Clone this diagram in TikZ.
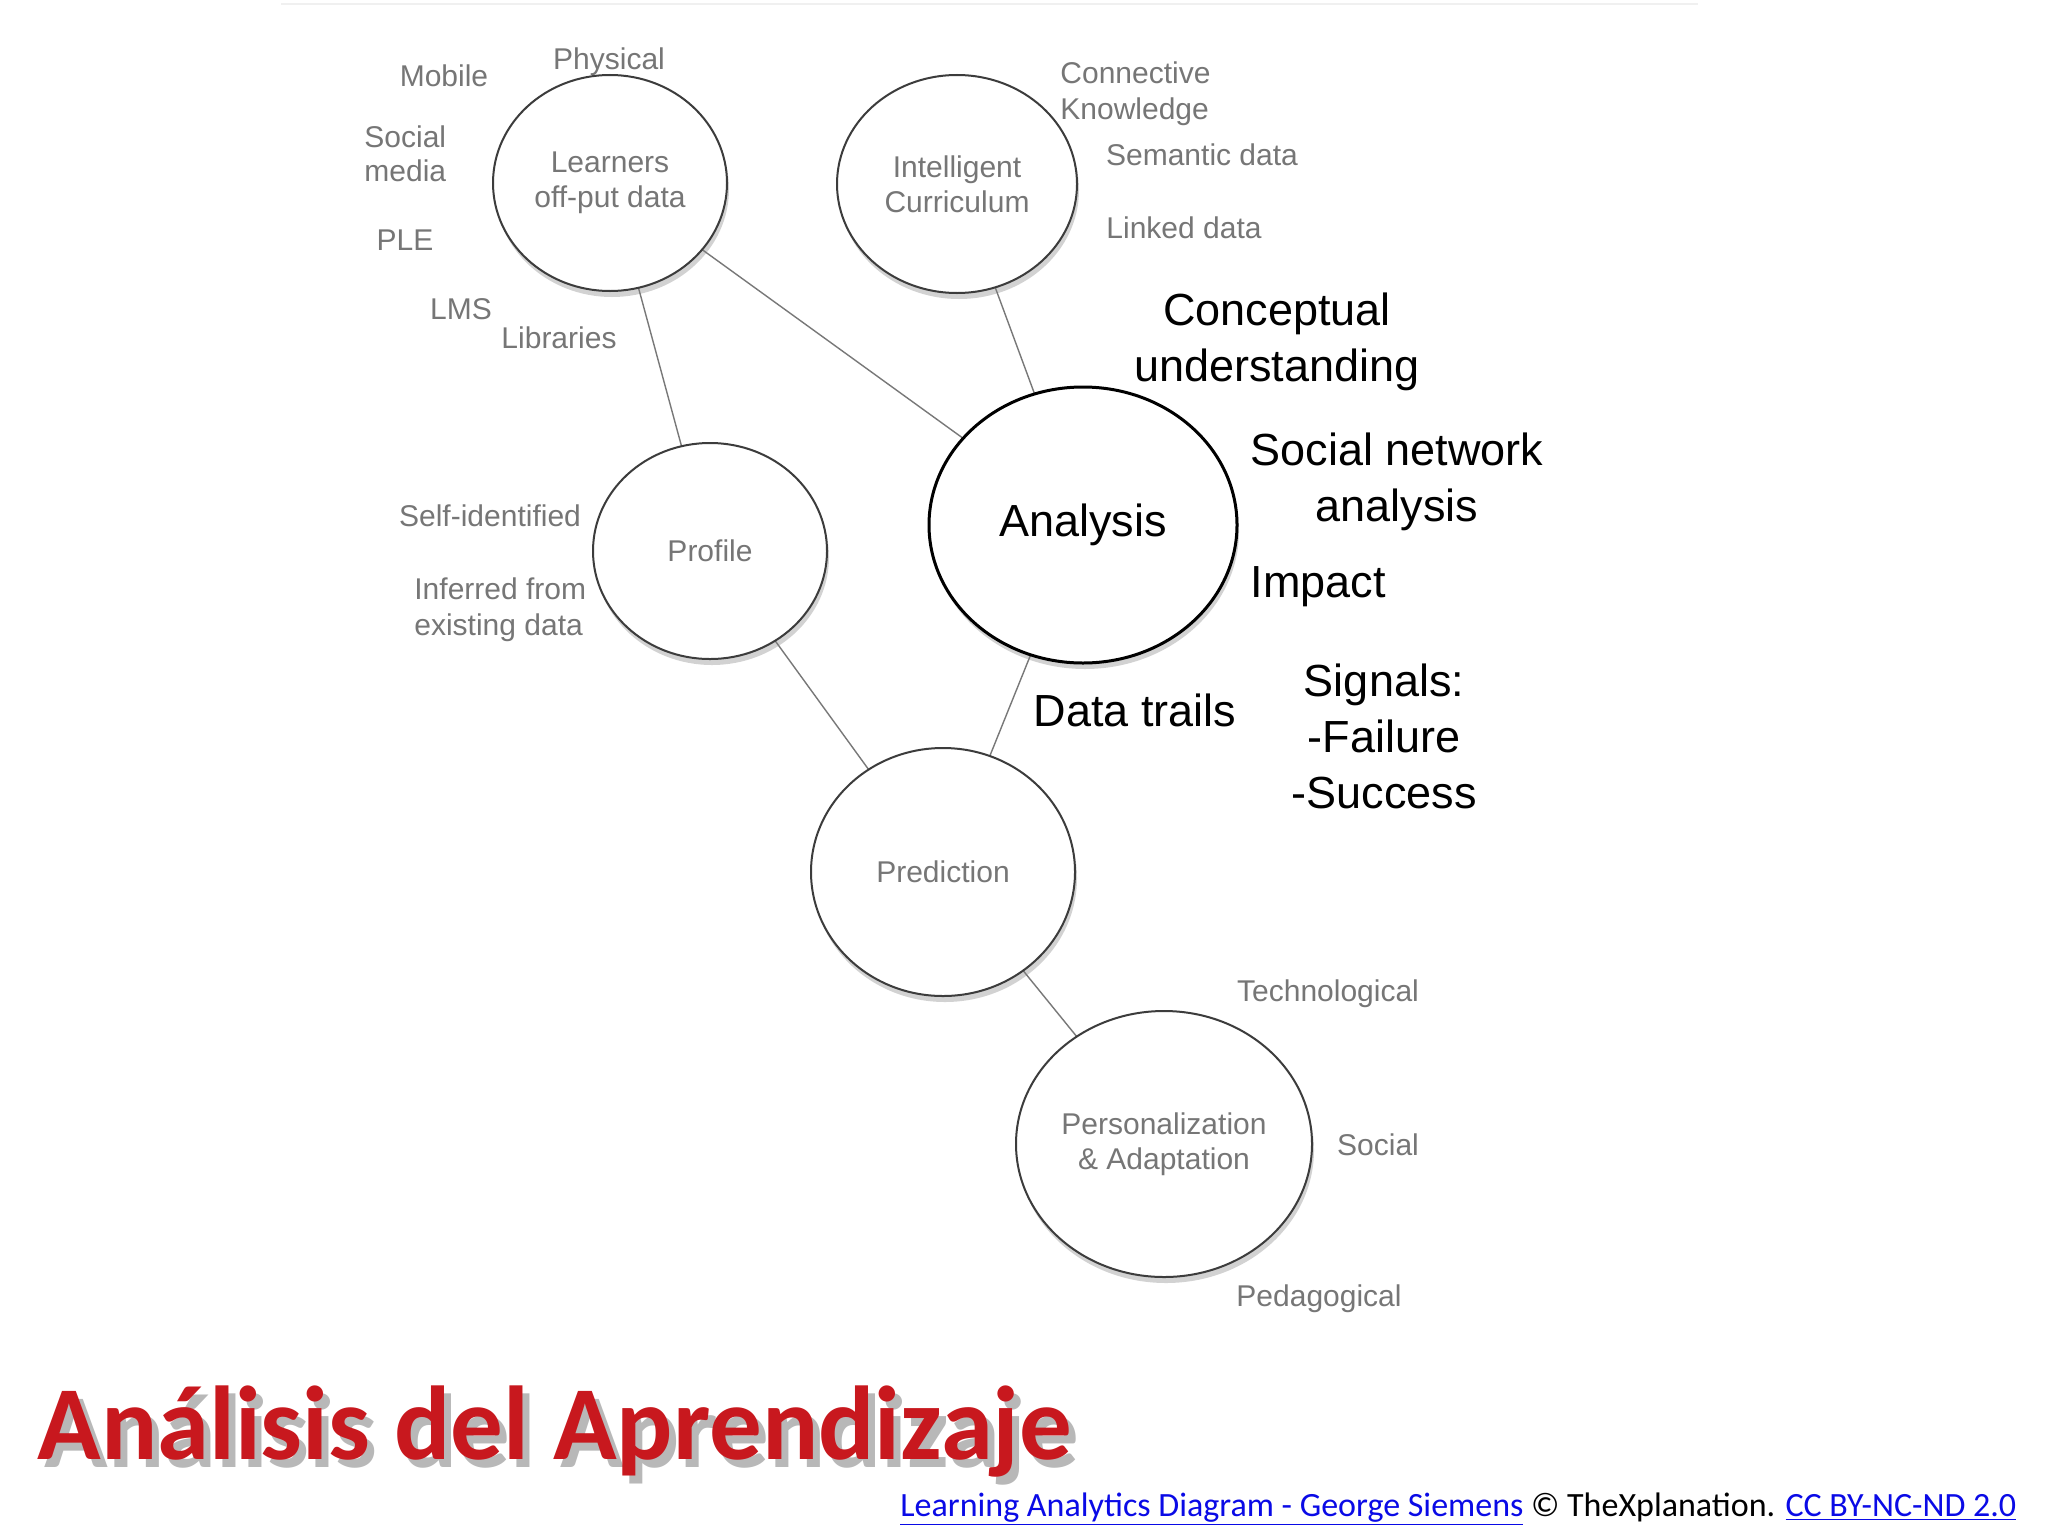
\documentclass[tikz,border=0pt]{standalone}
\usepackage{fontspec}
\setmainfont{Liberation Sans}
\newfontfamily\carlito{Carlito}
\usetikzlibrary{shapes.geometric,shadows}
\definecolor{lblgray}{RGB}{118,118,118}
\definecolor{edgegray}{RGB}{120,120,120}
\definecolor{rimgray}{RGB}{60,60,60}
\definecolor{titlered}{RGB}{200,24,30}
\definecolor{linkblue}{RGB}{10,10,230}
\tikzset{
  bubble/.style={ellipse, draw=rimgray, line width=1pt, fill=white, inner sep=0pt,
    text=lblgray, align=center, font=\fontsize{15}{17.5}\selectfont,
    drop shadow={opacity=0.35, shadow xshift=1pt, shadow yshift=-3pt}},
  bigbubble/.style={bubble, draw=black, line width=1.5pt, text=black,
    font=\fontsize{22.5}{28}\selectfont},
  glabel/.style={text=lblgray, font=\fontsize{15}{14}\selectfont, inner sep=0pt},
  blabel/.style={text=black, font=\fontsize{22.5}{28}\selectfont, inner sep=0pt, align=center},
  link/.style={draw=edgegray, line width=0.7pt},
  titlefont/.style={anchor=base west, inner sep=0pt, font=\carlito\bfseries\fontsize{52.5}{60}\selectfont},
}
\begin{document}
\begin{tikzpicture}[x=0.5pt,y=-0.5pt]
\useasboundingbox[fill=white] (0,0) rectangle (2048,1536);
\draw[black!6, line width=1pt] (281,4) -- (1698,4);
% links first (under bubbles)
\coordinate (cL) at (610,183);
\coordinate (cC) at (957,184);
\coordinate (cA) at (1083,525);
\coordinate (cP) at (710,551);
\coordinate (cR) at (943,872);
\coordinate (cZ) at (1164,1144);
\draw[link] (cL) -- (cP);
\draw[link] (cL) -- (cA);
\draw[link] (cC) -- (cA);
\draw[link] (cP) -- (cR);
\draw[link] (cA) -- (cR);
\draw[link] (cR) -- (cZ);
% bubbles
\node[bubble, minimum width=117pt, minimum height=108pt] (learn) at (cL) {Learners\\off-put data};
\node[bubble, minimum width=120pt, minimum height=109pt] (curr) at (cC) {Intelligent\\Curriculum};
\node[bigbubble, minimum width=154pt, minimum height=138pt] (ana) at (cA) {Analysis};
\node[bubble, minimum width=117pt, minimum height=108pt] (prof) at (cP) {Profile};
\node[bubble, minimum width=132pt, minimum height=124pt] (pred) at (cR) {Prediction};
\node[bubble, minimum width=148pt, minimum height=133pt] (pers) at (cZ) {Personalization\\\&~Adaptation};
% gray labels
\node[glabel] (mob) at (444,76) {Mobile};
\node[glabel] (phy) at (609,62) {Physical};
\node[glabel, anchor=west, align=left, font=\fontsize{15}{17}\selectfont] (socm) at (364,154) {Social\\media};
\node[glabel] (ple) at (405,240) {PLE};
\node[glabel] (lms) at (461,309) {LMS};
\node[glabel] (lib) at (559,338) {Libraries};
\node[glabel, anchor=west, align=left, font=\fontsize{15}{18}\selectfont] (ck) at (1060,94) {Connective\\Knowledge};
\node[glabel] (sem) at (1202,155) {Semantic data};
\node[glabel] (lnk) at (1184,228) {Linked data};
\node[glabel] (self) at (490,516) {Self-identified};
\node[glabel, anchor=west, align=left, font=\fontsize{15}{18}\selectfont] (inf) at (414,610) {Inferred from\\existing data};
\node[glabel] (tech) at (1328,994) {Technological};
\node[glabel] (soc) at (1378,1145) {Social};
\node[glabel] (ped) at (1319,1299) {Pedagogical};
% black labels
\node[blabel] (conc) at (1277,342) {Conceptual\\understanding};
\node[blabel] (sna) at (1397,482) {Social network\\analysis};
\node[blabel] (imp) at (1318,587) {Impact};
\node[blabel] (dtr) at (1135,710) {Data trails};
\node[blabel] (sig) at (1384,736) {Signals:\\-Failure\\-Success};
% title with soft shadow
\node[titlefont, text=black, opacity=0.28] (titleshadow) at (44,1467) {Análisis del Aprendizaje};
\node[titlefont, text=titlered] (title) at (37,1459) {Análisis del Aprendizaje};
% footer
\node[anchor=base west, inner sep=0pt, font=\carlito\fontsize{17}{20}\selectfont] (foot) at (900,1516)
  {\textcolor{linkblue}{\underline{Learning Analytics Diagram - George Siemens}} © TheXplanation. \textcolor{linkblue}{\underline{CC BY-NC-ND 2.0}}};
\end{tikzpicture}
\end{document}
